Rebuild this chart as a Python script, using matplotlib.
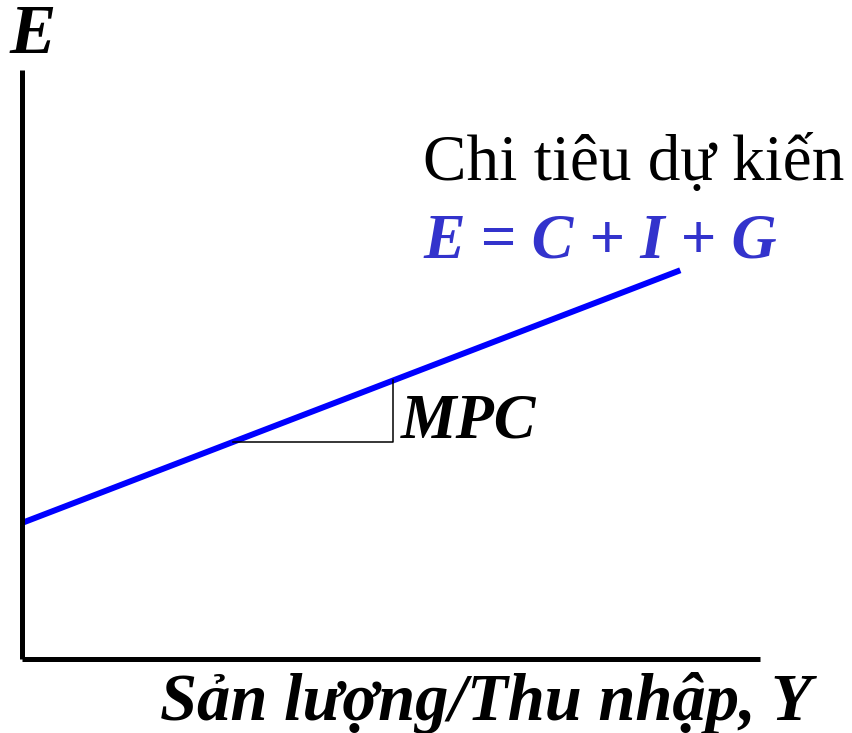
import matplotlib
matplotlib.use("Agg")
import matplotlib.pyplot as plt

# aggregate expenditure line (income Y, planned spending E)
income = [0.0, 89.2]
spending = [23.1, 66.0]
# MPC slope triangle
tri_y0, tri_y1 = 28.6, 50.3
mpc = (spending[1] - spending[0]) / (income[1] - income[0])
autonomous = spending[0]

W, H = 852, 733
fig = plt.figure(figsize=(W / 100, H / 100), dpi=100)
ax = fig.add_axes([22 / W, (H - 659) / H, 738 / W, 589 / H])
ax.set_xlim(0, 100)
ax.set_ylim(0, 100)
for s in ["top", "right"]:
    ax.spines[s].set_visible(False)
for s in ["left", "bottom"]:
    ax.spines[s].set_linewidth(3.6)
    ax.spines[s].set_capstyle("butt")
ax.set_xticks([])
ax.set_yticks([])

ax.plot(income, spending, color="#0000ff", lw=4.3, solid_capstyle="butt", clip_on=False)

e0 = autonomous + mpc * tri_y0
e1 = autonomous + mpc * tri_y1
ax.plot([tri_y0, tri_y1, tri_y1], [e0, e0, e1], color="black", lw=1.1)

serif = "Liberation Serif"
ax.text(51.3, e0 + 0.8, "MPC", fontsize=45, fontweight="bold", fontstyle="italic",
        family=serif, ha="left", va="baseline")

fig.text(33 / W, 1 - 36 / H, "E", fontsize=50, fontweight="bold", fontstyle="italic",
         family=serif, ha="center", va="center")
fig.text(423 / W, 1 - 180 / H, "Chi tiêu dự kiến", fontsize=47, family=serif,
         ha="left", va="baseline")
fig.text(423 / W, 1 - 257 / H, "E = C + I + G", fontsize=45, fontweight="bold",
         fontstyle="italic", family=serif, color="#3333cc", ha="left", va="baseline")
fig.text(160 / W, 1 - 720 / H, "Sản lượng/Thu nhập, Y", fontsize=48, fontweight="bold",
         fontstyle="italic", family=serif, ha="left", va="baseline")

fig.savefig("out.png", dpi=100)
